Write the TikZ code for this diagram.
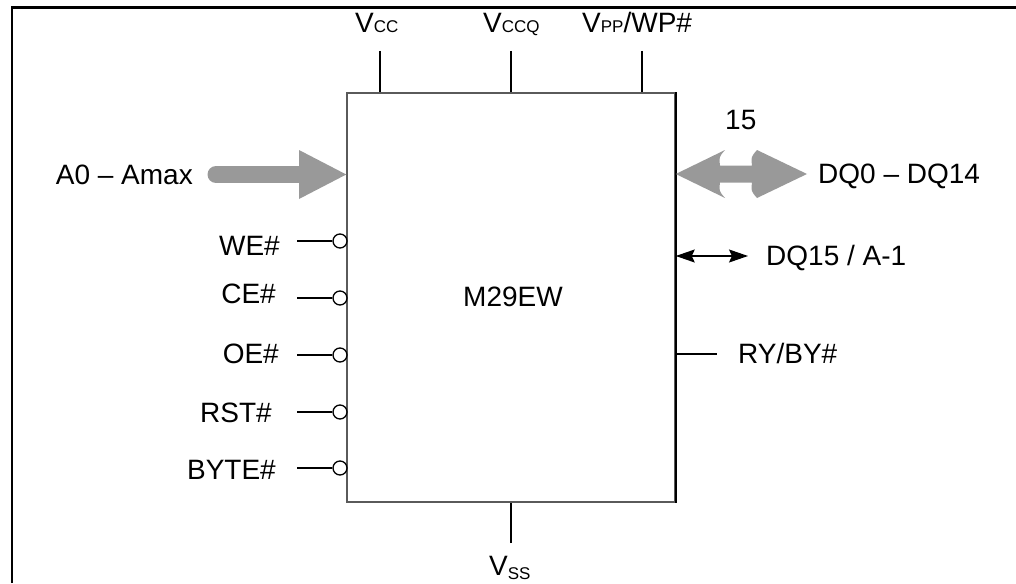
\documentclass[tikz,border=0pt]{standalone}
\usepackage{fontspec}
\setmainfont{Liberation Sans}
\usetikzlibrary{arrows.meta}
\definecolor{busgray}{HTML}{999999}
\definecolor{boxgray}{HTML}{5A5A5A}
\newcommand{\lsub}[1]{{\fontsize{17}{18}\selectfont #1}}
\newcommand{\lsubd}[1]{\raisebox{-4pt}{\fontsize{17}{18}\selectfont #1}}
\begin{document}
\begin{tikzpicture}[x=1pt,y=-1pt,
  font=\fontsize{28}{32}\selectfont,
  lbl/.style={inner sep=0pt},
  pinline/.style={draw=black,line width=1.5pt},
  bubble/.style={circle,draw=black,line width=1.3pt,fill=white,minimum size=14pt,inner sep=0pt},
  frame/.style={draw=black,line width=2.4pt},
  bus/.style={fill=busgray,draw=none},
  chipbox/.style={draw=boxgray,line width=1.5pt,minimum width=328pt,minimum height=409pt,inner sep=0pt}]
\useasboundingbox (0,0) rectangle (1016,583);
% outer frame (top and left edges)
\draw[frame] (12,583) -- (12,7.6) -- (1016,7.6);
% chip
\node[chipbox] (chip) at (511,297.5) {};
\draw[black,line width=1.5pt] (chip.north east) -- (chip.south east);
\node[lbl] (name) at (513,297) {M29EW};
% top supply pins
\node[lbl,anchor=base west] (vcc) at (355,33) {V\lsub{CC}};
\node[lbl,anchor=base west] (vccq) at (483,33) {V\lsub{CCQ}};
\node[lbl,anchor=base west] (vpp) at (582,33) {V\lsub{PP}/WP\#};
\coordinate (vccend) at (380,51);
\coordinate (vccqend) at (511,51);
\coordinate (vppend) at (642,51);
\draw[pinline] (vccend) -- (vccend |- chip.north);
\draw[pinline] (vccqend) -- (vccqend |- chip.north);
\draw[pinline] (vppend) -- (vppend |- chip.north);
% bottom Vss
\node[lbl,anchor=base west] (vss) at (489,575) {V\lsubd{SS}};
\coordinate (vssend) at (511,543);
\draw[pinline] (vssend) -- (vssend |- chip.south);
% address bus
\node[lbl,anchor=base east] (addr) at (193,184) {A0 -- Amax};
\coordinate (addrtail) at (216,174.5);
\coordinate (addrtip) at (chip.west |- addrtail);
\draw[line width=17pt,busgray,line cap=round] (addrtail) -- (299,174.5);
\fill[bus] (299,150) -- (addrtip) -- (299,199) -- cycle;
% data bus
\node[lbl,anchor=base west] (dq) at (818,183) {DQ0 -- DQ14};
\node[lbl,anchor=base west] (fifteen) at (725,129) {15};
\coordinate (dqtip) at (chip.east |- 0,174);
\fill[bus] (dqtip) -- (725,150) .. controls (719,157) .. (720,165.5) -- (752,165.5)
  .. controls (751,157) .. (757,150) -- (807,174) -- (757,198)
  .. controls (751,191) .. (752,182.5) -- (720,182.5) .. controls (719,191) .. (725,198) -- cycle;
% DQ15 / A-1
\node[lbl,anchor=base west] (dq15) at (766,265) {DQ15 / A-1};
\coordinate (dq15end) at (748,256);
\draw[line width=1.4pt,{Stealth[length=19pt,width=13pt,inset=3pt]}-{Stealth[length=19pt,width=13pt,inset=3pt]}]
  (chip.east |- dq15end) -- (dq15end);
% RY/BY#
\node[lbl,anchor=base west] (ry) at (738,363) {RY/BY\#};
\coordinate (ryend) at (717,354);
\draw[pinline] (chip.east |- ryend) -- (ryend);
% control pins (active low)
\node[bubble] (we) at (340,241) {};
\node[bubble] (ce) at (340,298) {};
\node[bubble] (oe) at (340,355) {};
\node[bubble] (rst) at (340,412) {};
\node[bubble] (byte) at (340,468) {};
\node[lbl,anchor=base east] (welbl) at (280,255) {WE\#};
\node[lbl,anchor=base east] (celbl) at (276,303) {CE\#};
\node[lbl,anchor=base east] (oelbl) at (279,363) {OE\#};
\node[lbl,anchor=base east] (rstlbl) at (272,422) {RST\#};
\node[lbl,anchor=base east] (bytelbl) at (276,479) {BYTE\#};
\foreach \p in {we,ce,oe,rst,byte}
  \draw[pinline] (\p.west) -- ++(-35,0);
\end{tikzpicture}
\end{document}
